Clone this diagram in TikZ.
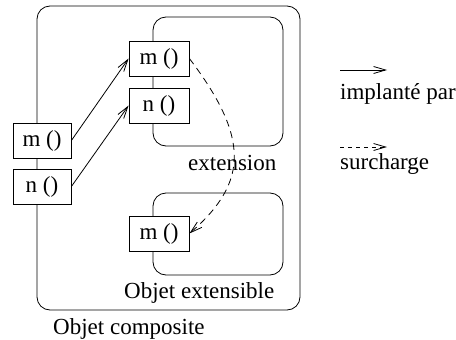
\documentclass[tikz,border=0pt]{standalone}
\usepackage{fontspec}
\setmainfont{Liberation Serif}
\usetikzlibrary{arrows.meta}
\tikzset{
  txt/.style={font=\fontsize{23}{27}\selectfont, inner sep=0pt},
  meth/.style={draw, fill=white, line width=0.8pt, minimum width=60pt, minimum height=35pt, inner sep=0pt, font=\fontsize{23}{27}\selectfont},
  frame/.style={draw, line width=0.8pt, rounded corners=13pt},
  impl/.style={line width=0.8pt, -{Straight Barb[length=12pt,width=7pt,line width=0.8pt]}},
  over/.style={impl, dash pattern=on 7pt off 5pt},
}
\begin{document}
\begin{tikzpicture}[x=1pt,y=-1pt]
\useasboundingbox (0,0) rectangle (456,340);
% frames
\draw[frame] (37,6) rectangle (300,310);
\draw[frame] (153,17) rectangle (283,146);
\draw[frame] (153,193) rectangle (283,275);
% method boxes
\node[meth] (tm) at (159,58.5) {m ()};
\node[meth] (tn) at (159,105.5) {n ()};
\node[meth, minimum width=58pt] (lm) at (42,140.5) {m ()};
\node[meth, minimum width=58pt] (ln) at (42,186.5) {n ()};
\node[meth] (bm) at (159,233.5) {m ()};
% labels
\node[txt, anchor=base west] (lext) at (188,170) {extension};
\node[txt, anchor=base west] (lobe) at (124,298) {Objet extensible};
\node[txt, anchor=base west] (lobc) at (53,334) {Objet composite};
% connectors
\draw[impl] (lm.east) -- (tm.west);
\draw[impl] (ln.east) -- (tn.west);
\draw[over] (tm.east) .. controls (249,137) and (249,182) .. (bm.east);
% legend
\coordinate (a1) at (340,70);
\coordinate (a2) at (387,70);
\draw[impl] (a1) -- (a2);
\node[txt, anchor=base west] (limp) at (340,99) {implanté par};
\coordinate (b1) at (340,147);
\coordinate (b2) at (387,147);
\draw[impl, dash pattern=on 4pt off 4pt] (b1) -- (b2);
\node[txt, anchor=base west] (lsur) at (340,169) {surcharge};
\end{tikzpicture}
\end{document}
